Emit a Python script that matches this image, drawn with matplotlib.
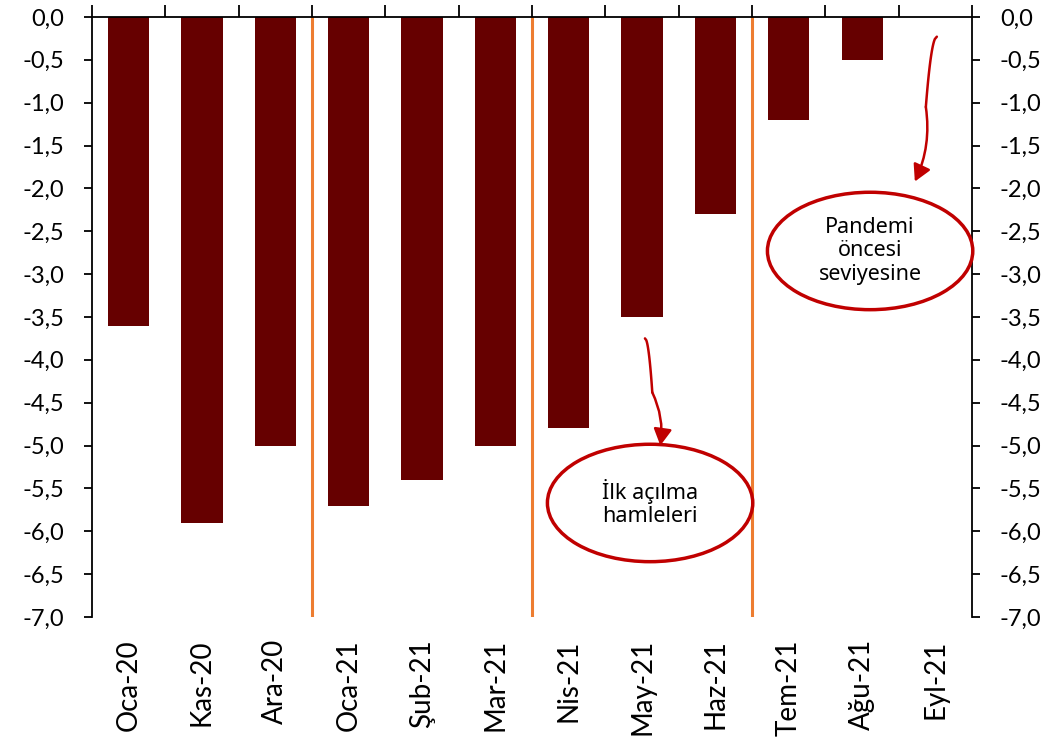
import numpy as np
import matplotlib.pyplot as plt
from matplotlib.patches import Ellipse

# ---- data ----
months = ["Oca-20", "Kas-20", "Ara-20", "Oca-21", "Şub-21", "Mar-21",
          "Nis-21", "May-21", "Haz-21", "Tem-21", "Ağu-21", "Eyl-21"]
values = [-3.6, -5.9, -5.0, -5.7, -5.4, -5.0, -4.8, -3.5, -2.3, -1.2, -0.5, 0.0]
phase_breaks = [2.5, 5.5, 8.5]
y_ticks = np.arange(0, -7.01, -0.5)
y_labels = [f"{v:.1f}".replace(".", ",") for v in y_ticks]

bar_color = "#660000"
note_color = "#C00000"
break_color = "#ED7D31"

plt.rcParams['font.family'] = ['Lato', 'DejaVu Sans']

fig = plt.figure(figsize=(10.56, 7.38), dpi=100)
ax = fig.add_axes([0.0871, 0.164, 0.8334, 0.813])

x = np.arange(len(months))
ax.bar(x, values, width=0.56, color=bar_color, zorder=2)

for b in phase_breaks:
    ax.axvline(b, color=break_color, linewidth=2.2, zorder=1)

ax.set_xlim(-0.5, len(months) - 0.5)
ax.set_ylim(-7.0, 0.0)

# spines: x axis sits at zero (top), left and right value axes
ax.spines['bottom'].set_visible(False)
for s in ['top', 'left', 'right']:
    ax.spines[s].set_linewidth(1.3)
    ax.spines[s].set_color("black")

ax.set_xticks(x)
ax.set_xticklabels(months, rotation=90, fontsize=20)
ax.set_xticks(np.arange(-0.5, len(months), 1.0), minor=True)
ax.tick_params(axis='x', which='major', length=0, pad=16, bottom=True, top=False)
ax.tick_params(axis='x', which='minor', length=9, width=1.3, top=True, bottom=False,
               direction='out')

ax.set_yticks(y_ticks)
ax.set_yticklabels(y_labels, fontsize=17)
ax.tick_params(axis='y', which='major', length=6, width=1.3, direction='out',
               left=True, right=True, labelleft=True, labelright=True, pad=14)

# ---- annotations ----
def wiggle_arrow(p0, p1, p2):
    # curved stroke with a small kink, finished by an arrow head
    t = np.linspace(0, 1, 30)
    xa = p0[0] + (p1[0] - p0[0]) * t ** 0.5
    ya = p0[1] + (p1[1] - p0[1]) * t
    ax.plot(xa, ya, color=note_color, linewidth=1.8, zorder=3, clip_on=False,
            solid_capstyle='round')
    ax.annotate("", xy=p2, xytext=p1,
                arrowprops=dict(arrowstyle="-|>,head_length=1.0,head_width=0.55",
                                color=note_color, lw=1.8, shrinkA=0, shrinkB=0,
                                connectionstyle="arc3,rad=-0.15"),
                zorder=3)

wiggle_arrow((7.04, -3.75), (7.14, -4.38), (7.25, -5.0))
wiggle_arrow((11.02, -0.23), (10.87, -1.05), (10.72, -1.92))

for (cx, cy), txt in [((7.11, -5.67), "İlk açılma\nhamleleri"),
                      ((10.11, -2.73), "Pandemi\nöncesi\nseviyesine")]:
    ax.add_patch(Ellipse((cx, cy), 2.8, 1.37, facecolor="white",
                         edgecolor=note_color, linewidth=2.5, zorder=4, clip_on=False))
    ax.text(cx, cy, txt, ha="center", va="center", fontsize=15.5,
            family=["Noto Sans", "DejaVu Sans"], linespacing=1.15, zorder=5)

fig.savefig("out.png", dpi=100)
